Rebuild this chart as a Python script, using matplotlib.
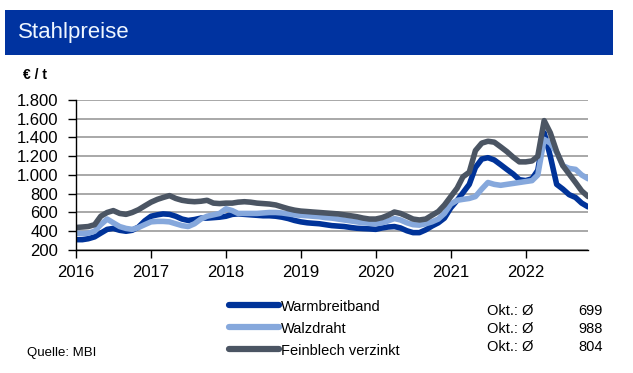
import pandas as pd
import matplotlib.pyplot as plt
import matplotlib.dates as mdates
from matplotlib.patches import Rectangle
from matplotlib.lines import Line2D
from matplotlib.ticker import FuncFormatter

plt.rcParams['font.family'] = ['Liberation Sans', 'DejaVu Sans']

# Monatswerte Jan 2016 - Nov 2022 (EUR/t)
monate = pd.date_range('2016-01-01', '2022-11-01', freq='MS')

warmbreitband = [
    310, 310, 320, 340, 380, 420, 430, 410, 400, 410, 445, 510,
    560, 575, 585, 580, 560, 530, 515, 525, 540, 540, 545, 550,
    560, 580, 585, 580, 575, 570, 565, 565, 560, 550, 535, 515,
    500, 490, 485, 480, 470, 460, 455, 450, 440, 432, 428, 425,
    420, 435, 445, 450, 435, 405, 385, 385, 415, 455, 490, 540,
    650, 730, 810, 900, 1080, 1170, 1185, 1160, 1110, 1060, 1010, 950,
    940, 960, 1050, 1450, 1200, 900, 850, 790, 760, 700, 660,
]
walzdraht = [
    380, 375, 380, 400, 470, 530, 490, 450, 430, 420, 440, 470,
    500, 505, 505, 500, 480, 460, 450, 480, 530, 560, 575, 590,
    640, 620, 590, 590, 590, 590, 595, 600, 600, 595, 585, 575,
    570, 565, 560, 555, 545, 540, 530, 520, 510, 500, 490, 485,
    480, 490, 510, 535, 520, 490, 470, 465, 480, 500, 530, 590,
    690, 730, 740, 750, 770, 850, 920, 900, 890, 900, 910, 920,
    930, 940, 1000, 1380, 1340, 1240, 1100, 1070, 1060, 1000, 960,
]
feinblech = [
    440, 445, 450, 470, 560, 600, 620, 590, 580, 600, 630, 670,
    710, 740, 760, 780, 750, 730, 720, 715, 720, 730, 700, 695,
    700, 700, 710, 715, 710, 700, 695, 690, 680, 660, 640, 625,
    615, 610, 605, 600, 595, 590, 585, 575, 565, 555, 540, 530,
    530, 545, 570, 605, 590, 560, 530, 520, 530, 570, 610, 680,
    770, 860, 980, 1030, 1260, 1340, 1360, 1350, 1300, 1250, 1190, 1140,
    1140, 1150, 1200, 1580, 1450, 1250, 1100, 1010, 920, 830, 770,
]

serien = ['Warmbreitband', 'Walzdraht', 'Feinblech verzinkt']
okt_werte = ['699', '988', '804']
farben = ['#003399', '#86a8dc', '#4b5563']

fig = plt.figure(figsize=(6.33, 3.73), dpi=100)

# Titelbalken
fig.add_artist(Rectangle((0.008, 0.8525), 0.9605, 0.1206, transform=fig.transFigure,
                         facecolor='#0033a0', edgecolor='none'))
fig.text(0.028, 0.912, 'Stahlpreise', color='#eef6ff', fontsize=16, va='center', ha='left')
fig.text(0.036, 0.799, '€ / t', fontsize=10, fontweight='bold', va='center', ha='left')

ax = fig.add_axes([0.12, 0.3298, 0.809, 0.4021])

for werte, name, farbe in zip([warmbreitband, walzdraht, feinblech], serien, farben):
    ax.plot(monate, werte, color=farbe, linewidth=4.0, solid_capstyle='round',
            solid_joinstyle='round', label=name)

ax.set_ylim(200, 1800)
ax.set_yticks(range(200, 1801, 200))
ax.yaxis.set_major_formatter(FuncFormatter(lambda v, p: f'{v:,.0f}'.replace(',', '.')))
ax.set_xlim(pd.Timestamp('2016-01-01'), pd.Timestamp('2022-11-01'))
ax.xaxis.set_major_locator(mdates.YearLocator())
ax.xaxis.set_major_formatter(mdates.DateFormatter('%Y'))

ax.grid(axis='y', color='#a8a8a8', linewidth=1.4)
ax.set_axisbelow(True)
for s in ['top', 'right']:
    ax.spines[s].set_visible(False)
ax.spines['left'].set_linewidth(1)
ax.spines['bottom'].set_linewidth(1)
ax.tick_params(axis='both', labelsize=12, length=6, width=1, pad=5)
ax.tick_params(axis='y', pad=7)

# Legende
handles = [Line2D([0], [0], color=f, linewidth=4.5, solid_capstyle='round') for f in farben]
fig.legend(handles, serien, loc='upper left', bbox_to_anchor=(0.362, 0.197),
           frameon=False, fontsize=10.5, handlelength=3.4, handletextpad=0.15,
           labelspacing=0.55, borderpad=0, borderaxespad=0)

for i, wert in enumerate(okt_werte):
    y = 1 - (311 + i * 18) / 373
    fig.text(0.769, y, 'Okt.: Ø', fontsize=10.5, va='center', ha='left')
    fig.text(0.952, y, wert, fontsize=10.5, va='center', ha='right')

fig.text(0.043, 1 - 353 / 373, 'Quelle: MBI', fontsize=9.5, va='center', ha='left')

fig.savefig('out.png', dpi=100)
